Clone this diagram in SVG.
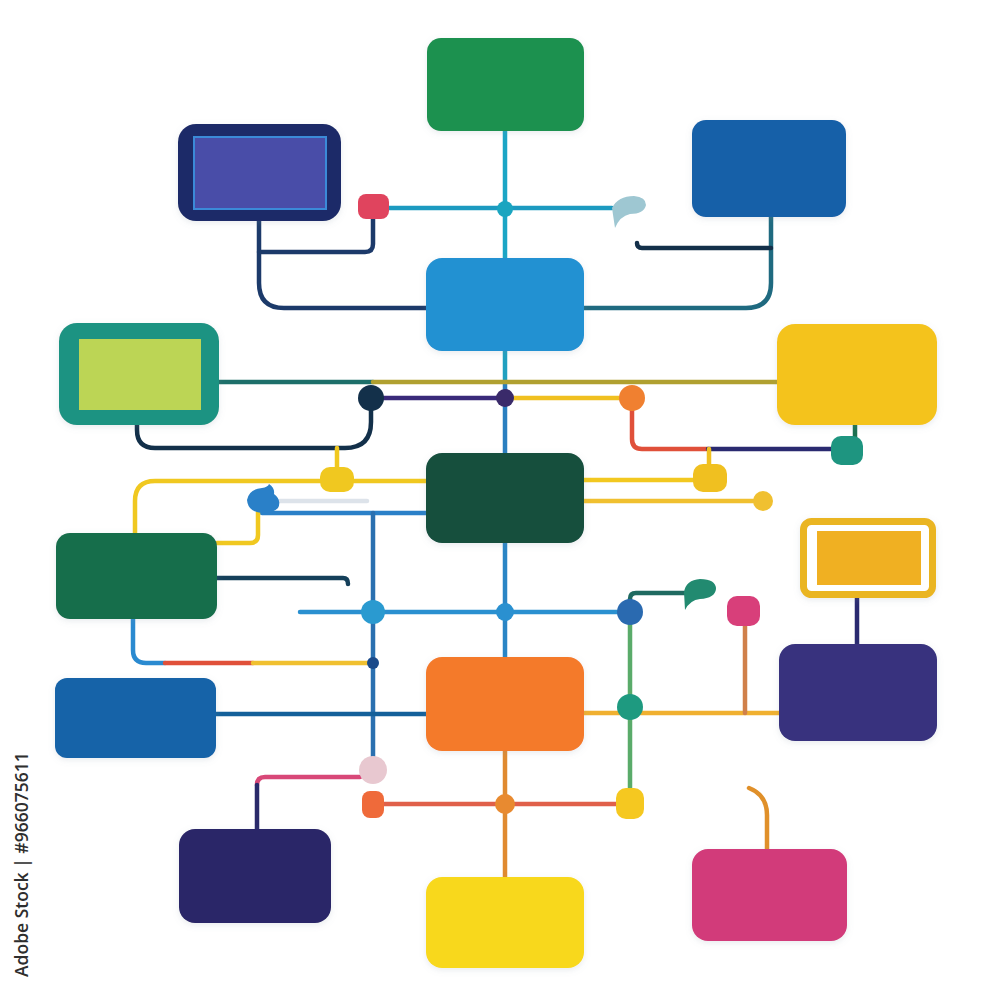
<svg xmlns="http://www.w3.org/2000/svg" width="1000" height="1000" viewBox="0 0 1000 1000">
<defs>
<filter id="sh" x="-20%" y="-20%" width="140%" height="140%"><feDropShadow dx="0" dy="2" stdDeviation="3" flood-color="#8090a0" flood-opacity="0.18"/></filter>
<style>
.n{filter:url(#sh)}
.c{fill:none;stroke-width:4.5;stroke-linecap:round;stroke-linejoin:round}
.t{font-family:"Open Sans","Noto Sans",sans-serif;font-size:17.5px;font-weight:600;fill:#2e2e2e}
</style>
</defs>
<rect width="1000" height="1000" fill="#ffffff"/>
<g id="connectors">
<path class="c" d="M505 131 V258" stroke="#1ba5c5"/>
<path class="c" d="M389 208 H612" stroke="#1c9ac0"/>
<path class="c" d="M373 219 V244 Q373 252 365 252 H259" stroke="#1c3a6a"/>
<path class="c" d="M259 221 V283 Q259 308 284 308 H426" stroke="#1c3a6a"/>
<path class="c" d="M771 217 V283 Q771 308 746 308 H584" stroke="#1f6a80"/>
<path class="c" d="M771 248 H642 Q637 248 637 243" stroke="#14304a"/>
<path class="c" d="M505 351 V382" stroke="#20a0c0"/>
<path class="c" d="M505 382 V453" stroke="#2a7fc0"/>
<path class="c" d="M219 382 H373" stroke="#1d6f6a"/>
<path class="c" d="M373 382 H777" stroke="#b0a030"/>
<path class="c" d="M371 398 H505" stroke="#3a2a7a"/>
<path class="c" d="M505 398 H632" stroke="#f0c020"/>
<path class="c" d="M371 398 V422 Q371 448 345 448 H155 Q137 448 137 430 V425" stroke="#13304a"/>
<path class="c" d="M632 398 V439 Q632 449 642 449 H708" stroke="#e0503a"/>
<path class="c" d="M708 449 H840" stroke="#2a2a70"/>
<path class="c" d="M855 425 V437" stroke="#1a7050"/>
<path class="c" d="M709 449 V464" stroke="#f0c020"/>
<path class="c" d="M584 480 H693" stroke="#f2c820"/>
<path class="c" d="M426 481 H354" stroke="#f0c820"/>
<path class="c" d="M337 448 V467" stroke="#f0c820"/>
<path class="c" d="M320 481 H155 Q135 481 135 501 V533" stroke="#f0c820"/>
<path class="c" d="M584 501 H763" stroke="#f0c030"/>
<path class="c" d="M280 501 H367" stroke="#dde3ea"/>
<path class="c" d="M262 513 H426" stroke="#2a80c8"/>
<path class="c" d="M217 543 H250 Q258 543 258 535 V512" stroke="#f0c820"/>
<path class="c" d="M373 513 V758" stroke="#2a70b0"/>
<path class="c" d="M505 543 V657" stroke="#2a85c5"/>
<path class="c" d="M300 612 H630" stroke="#2a90d0"/>
<path class="c" d="M630 612 V599 Q630 593 636 593 H690" stroke="#1f6a60"/>
<path class="c" d="M217 578 H343 Q348 578 348 584" stroke="#15405a"/>
<path class="c" d="M630 612 V790" stroke="#5aab6a"/>
<path class="c" d="M584 713 H779" stroke="#f0b030"/>
<path class="c" d="M745 626 V713" stroke="#d0804a"/>
<path class="c" d="M857 597 V644" stroke="#2a2a70"/>
<path class="c" d="M133 619 V650 Q133 663 146 663 H165" stroke="#2a8ad0"/>
<path class="c" d="M165 663 H253" stroke="#e0503a"/>
<path class="c" d="M253 663 H373" stroke="#f0c030"/>
<path class="c" d="M216 714 H426" stroke="#14609a"/>
<path class="c" d="M360 777 H265 Q257 777 257 785" stroke="#d84878"/>
<path class="c" d="M257 785 V829" stroke="#2a2a6a"/>
<path class="c" d="M384 804 H616" stroke="#e0604a"/>
<path class="c" d="M505 751 V877" stroke="#e08a30"/>
<path class="c" d="M749 788 Q767 795 767 815 V849" stroke="#e0902a"/>
<circle cx="505" cy="209" r="8" fill="#1aa5c0"/>
<rect x="358" y="194" width="31" height="25" rx="8" fill="#e0445e"/>
<path d="M612 208 Q618 196 634 196 Q646 197 646 205 Q644 214 630 214 Q620 216 615 228 Z" fill="#9ec7d2"/>
<circle cx="371" cy="398" r="13" fill="#13304a"/>
<circle cx="505" cy="398" r="9" fill="#3a2a6a"/>
<circle cx="632" cy="398" r="13" fill="#f08030"/>
<rect x="831" y="436" width="32" height="29" rx="10" fill="#1e9580"/>
<rect x="693" y="464" width="34" height="28" rx="10" fill="#f0c020"/>
<rect x="320" y="467" width="34" height="25" rx="10" fill="#f0c820"/>
<circle cx="763" cy="501" r="10" fill="#f0c030"/>
<path d="M247 500 Q249 489 262 488 Q268 487 269 484 Q275 488 274 494 Q282 500 278 508 Q272 514 262 513 Q248 512 247 500 Z" fill="#2a80c8"/>
<circle cx="373" cy="612" r="12" fill="#2a9ad0"/>
<circle cx="505" cy="612" r="9" fill="#2a90d0"/>
<circle cx="630" cy="612" r="13" fill="#2a6ab0"/>
<path d="M684 592 Q686 580 700 579 Q716 579 716 589 Q715 598 700 599 Q690 600 685 610 Z" fill="#228a70"/>
<rect x="727" y="596" width="33" height="30" rx="10" fill="#d83f7a"/>
<circle cx="630" cy="707" r="13" fill="#1e9a80"/>
<circle cx="373" cy="663" r="6" fill="#1a4a8a"/>
<circle cx="373" cy="770" r="14" fill="#e8c8d0"/>
<rect x="362" y="791" width="22" height="27" rx="8" fill="#ef6a3a"/>
<circle cx="505" cy="804" r="10" fill="#e88a30"/>
<rect x="616" y="788" width="28" height="31" rx="10" fill="#f5c820"/>
</g>
<g id="node-top-green" class="n"><rect x="427" y="38" width="157" height="93" rx="14" fill="#1f9150"/></g>
<g id="node-top-left-navy" class="n"><rect x="178" y="124" width="163" height="97" rx="18" fill="#1b2a68"/><rect x="194" y="137" width="132" height="72" fill="#4a4ea8" stroke="#3a8ad8" stroke-width="2"/></g>
<g id="node-top-right-blue" class="n"><rect x="692" y="120" width="154" height="97" rx="14" fill="#1560a8"/></g>
<g id="node-center-blue" class="n"><rect x="426" y="258" width="158" height="93" rx="16" fill="#2191d2"/></g>
<g id="node-left-teal" class="n"><rect x="59" y="323" width="160" height="102" rx="18" fill="#1f9382"/><rect x="79" y="339" width="122" height="71" fill="#bcd554"/></g>
<g id="node-right-yellow" class="n"><rect x="777" y="324" width="160" height="101" rx="18" fill="#f4c31c"/></g>
<g id="node-center-darkgreen" class="n"><rect x="426" y="453" width="158" height="90" rx="16" fill="#124f3e"/></g>
<g id="node-left-green" class="n"><rect x="56" y="533" width="161" height="86" rx="14" fill="#166e4c"/></g>
<g id="node-right-framed-yellow" class="n"><rect x="803.5" y="521.5" width="129" height="73" rx="8" fill="#ffffff" stroke="#eab523" stroke-width="7"/><rect x="817" y="531" width="104" height="54" fill="#f0b020"/></g>
<g id="node-center-orange" class="n"><rect x="426" y="657" width="158" height="94" rx="16" fill="#f47a2a"/></g>
<g id="node-right-purple" class="n"><rect x="779" y="644" width="158" height="97" rx="16" fill="#38327e"/></g>
<g id="node-left-blue" class="n"><rect x="55" y="678" width="161" height="80" rx="12" fill="#1464a8"/></g>
<g id="node-bottom-left-navy" class="n"><rect x="179" y="829" width="152" height="94" rx="16" fill="#2c2567"/></g>
<g id="node-bottom-yellow" class="n"><rect x="426" y="877" width="158" height="91" rx="16" fill="#f8d81a"/></g>
<g id="node-bottom-pink" class="n"><rect x="692" y="849" width="155" height="92" rx="16" fill="#d23a7a"/></g>
<text class="t" transform="translate(28 977) rotate(-90)">Adobe Stock | #966075611</text>
</svg>
